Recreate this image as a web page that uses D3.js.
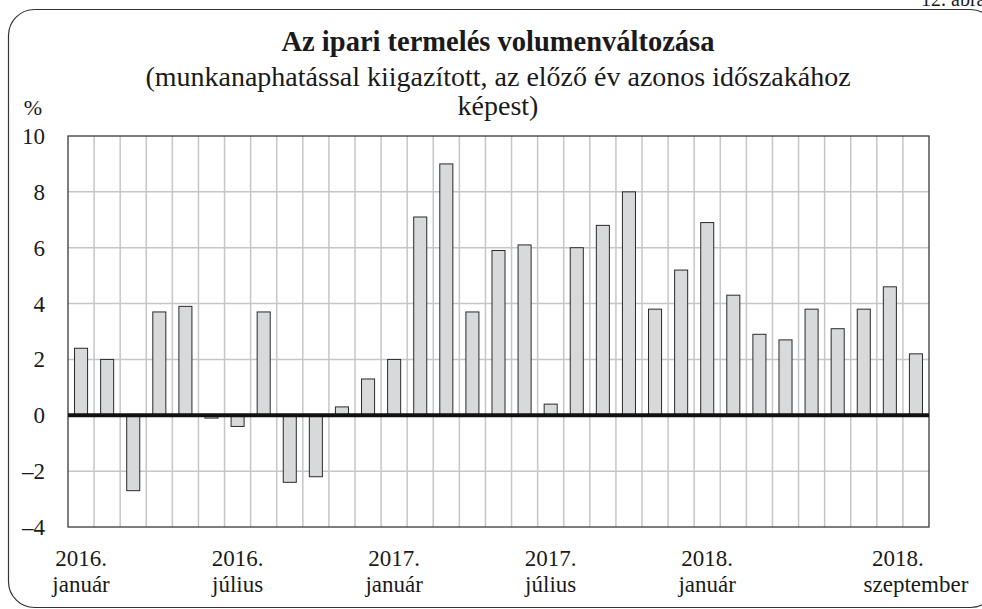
<!DOCTYPE html>
<html>
<head>
<meta charset="utf-8">
<script src="https://cdn.jsdelivr.net/npm/d3@7.9.0/dist/d3.min.js"></script>
<style>
  body { margin: 0; background: #fff; }
  text { font-family: "Liberation Serif", Tinos, serif; }
</style>
</head>
<body>
<svg id="chart" width="982" height="609"></svg>
<script>
const months = [
  '2016-01', '2016-02', '2016-03', '2016-04', '2016-05', '2016-06',
  '2016-07', '2016-08', '2016-09', '2016-10', '2016-11', '2016-12',
  '2017-01', '2017-02', '2017-03', '2017-04', '2017-05', '2017-06',
  '2017-07', '2017-08', '2017-09', '2017-10', '2017-11', '2017-12',
  '2018-01', '2018-02', '2018-03', '2018-04', '2018-05', '2018-06',
  '2018-07', '2018-08', '2018-09'
];
const values = [
  2.4, 2.0, -2.7, 3.7, 3.9, -0.1, -0.4, 3.7, -2.4, -2.2, 0.3, 1.3,
  2.0, 7.1, 9.0, 3.7, 5.9, 6.1, 0.4, 6.0, 6.8, 8.0, 3.8, 5.2,
  6.9, 4.3, 2.9, 2.7, 3.8, 3.1, 3.8, 4.6, 2.2
];
const xTickMonths = ['2016-01', '2016-07', '2017-01', '2017-07', '2018-01', '2018-09'];
const xTickYears = ['2016.', '2016.', '2017.', '2017.', '2018.', '2018.'];
const xTickNames = ['január', 'július', 'január', 'július', 'január', 'szeptember'];
const yTicks = [-4, -2, 0, 2, 4, 6, 8, 10];

const title = 'Az ipari termelés volumenváltozása';
const subtitle1 = '(munkanaphatással kiigazított, az előző év azonos időszakához';
const subtitle2 = 'képest)';

const FONT = 'Liberation Serif';
const svg = d3.select('#chart');
const plotLeft = 68, plotRight = 929, plotTop = 136, plotBottom = 527;

const x = d3.scaleBand().domain(months).range([plotLeft, plotRight]).paddingInner(0.5).paddingOuter(0.25);
const y = d3.scaleLinear().domain([-4, 10]).range([plotBottom, plotTop]);
const slotLeft = d => x(d) - x.step() * 0.25;

function label(parent, size) {
  return parent.append('text')
    .attr('font-family', FONT)
    .style('font-family', '"Liberation Serif", Tinos, serif')
    .attr('font-size', size)
    .attr('fill', '#1a1a1a');
}

// outer rounded frame
svg.append('rect')
  .attr('x', 8.5).attr('y', 9.5).attr('width', 988).attr('height', 598)
  .attr('rx', 26).attr('ry', 26)
  .attr('fill', 'none').attr('stroke', '#333').attr('stroke-width', 1.2);

label(svg, 20).attr('x', 921).attr('y', 6).text('12. ábra');

// titles
label(svg, 28.5).attr('x', 498).attr('y', 51).attr('text-anchor', 'middle')
  .attr('font-weight', 'bold').text(title);
label(svg, 28).attr('x', 498).attr('y', 86).attr('text-anchor', 'middle').text(subtitle1);
label(svg, 28).attr('x', 498).attr('y', 115).attr('text-anchor', 'middle').text(subtitle2);
label(svg, 22).attr('x', 33).attr('y', 115).attr('text-anchor', 'middle').text('%');

// grid
const grid = svg.append('g').attr('stroke', '#c6c6c6').attr('stroke-width', 1.5);
grid.selectAll('line.h').data(yTicks.filter(t => t !== 0 && t !== 10 && t !== -4)).join('line')
  .attr('x1', plotLeft).attr('x2', plotRight).attr('y1', d => y(d)).attr('y2', d => y(d));
grid.selectAll('line.v').data(months.slice(1)).join('line')
  .attr('x1', d => slotLeft(d)).attr('x2', d => slotLeft(d)).attr('y1', plotTop).attr('y2', plotBottom);

// bars
svg.append('g').selectAll('rect').data(values).join('rect')
  .attr('x', (d, i) => x(months[i]))
  .attr('width', x.bandwidth())
  .attr('y', d => y(Math.max(0, d)))
  .attr('height', d => Math.abs(y(d) - y(0)))
  .attr('fill', '#d8d9da').attr('stroke', '#2a2a2a').attr('stroke-width', 1);

// plot frame
svg.append('rect').attr('x', plotLeft).attr('y', plotTop)
  .attr('width', plotRight - plotLeft).attr('height', plotBottom - plotTop)
  .attr('fill', 'none').attr('stroke', '#3a3a3a').attr('stroke-width', 1.3);

// zero line
svg.append('line').attr('x1', plotLeft).attr('x2', plotRight).attr('y1', y(0)).attr('y2', y(0))
  .attr('stroke', '#111').attr('stroke-width', 4);

// y axis labels
const yl = svg.append('g');
yTicks.forEach(t => {
  label(yl, 23).attr('x', 45).attr('y', y(t) + 8).attr('text-anchor', 'end')
    .text(t < 0 ? '\u2013' + Math.abs(t) : t);
});

// x axis labels
const xl = svg.append('g');
xTickMonths.forEach((m, i) => {
  const cx = x(m) + x.bandwidth() / 2;
  const shift = i === xTickMonths.length - 1 ? -18 : 0;
  label(xl, 23).attr('x', cx + shift).attr('y', 566).attr('text-anchor', 'middle').text(xTickYears[i]);
  label(xl, 23).attr('x', cx).attr('y', 592).attr('text-anchor', 'middle').text(xTickNames[i]);
});
</script>
</body>
</html>
